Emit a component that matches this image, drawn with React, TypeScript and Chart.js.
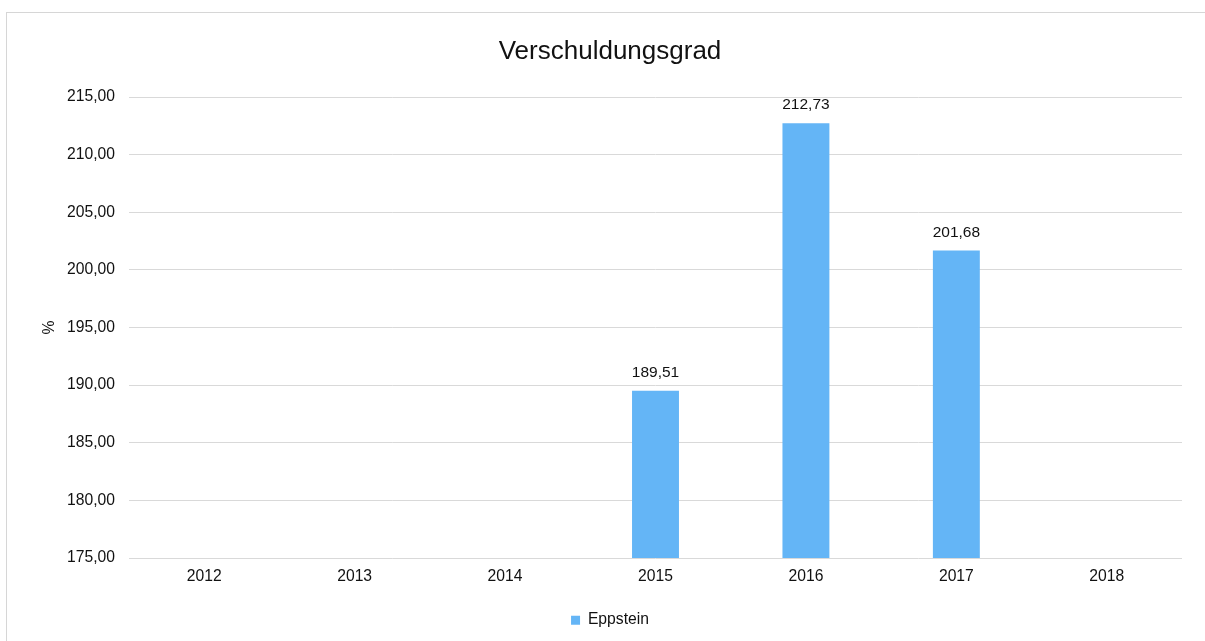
import React, { useEffect, useRef } from "react";
import { Chart, registerables } from "chart.js";

Chart.register(...registerables);

const chartTitle = "Verschuldungsgrad";
const categories = ["2012", "2013", "2014", "2015", "2016", "2017", "2018"];
const seriesName = "Eppstein";
const seriesValues: (number | null)[] = [null, null, null, 189.51, 212.73, 201.68, null];
const yAxisTitle = "%";
const yMin = 175;
const yMax = 215;
const yStep = 5;

const FONT = "'Liberation Sans', Arial, Helvetica, sans-serif";
const TEXT = "#111111";
const BAR = "#64B5F6";

const fmt = (v: number) => v.toFixed(2).replace(".", ",");

const valueLabels = {
  id: "valueLabels",
  afterDatasetsDraw(chart: any) {
    const ctx = chart.ctx;
    const meta = chart.getDatasetMeta(0);
    ctx.save();
    ctx.font = `15.5px ${FONT}`;
    ctx.fillStyle = TEXT;
    ctx.textAlign = "center";
    ctx.textBaseline = "alphabetic";
    meta.data.forEach((el: any, i: number) => {
      const v = seriesValues[i];
      if (v == null) return;
      ctx.fillText(fmt(v), el.x, el.y - 14);
    });
    ctx.restore();
  },
};

export default function App() {
  const ref = useRef<HTMLCanvasElement>(null);
  useEffect(() => {
    if (!ref.current) return;
    const chart = new Chart(ref.current, {
      type: "bar",
      data: {
        labels: categories,
        datasets: [
          {
            label: seriesName,
            data: seriesValues,
            backgroundColor: BAR,
            borderWidth: 0,
            barPercentage: 0.312,
            categoryPercentage: 1,
          },
        ],
      },
      plugins: [valueLabels],
      options: {
        animation: false,
        responsive: false,
        maintainAspectRatio: false,
        layout: { padding: { left: 38, right: 23, top: 0, bottom: 3 } },
        plugins: {
          tooltip: { enabled: false },
          title: {
            display: true,
            text: chartTitle,
            color: TEXT,
            font: { family: FONT, size: 26, weight: "normal" as any, lineHeight: 1.2 },
            padding: { top: 36, bottom: 29.8 },
          },
          legend: {
            display: true,
            position: "bottom",
            labels: {
              color: TEXT,
              font: { family: FONT, size: 15.7 },
              boxWidth: 9,
              boxHeight: 9,
              padding: 10,
            },
          },
        },
        scales: {
          x: {
            grid: { display: false, drawTicks: false },
            border: { display: false },
            ticks: { color: TEXT, font: { family: FONT, size: 15.7 }, padding: 9, maxRotation: 0 },
            afterFit(scale: any) {
              scale.height = 44.3;
            },
          },
          y: {
            min: yMin,
            max: yMax,
            grid: { color: "#d9d9d9", lineWidth: 1, drawTicks: false },
            border: { display: false },
            ticks: {
              stepSize: yStep,
              color: TEXT,
              font: { family: FONT, size: 15.7 },
              padding: 14,
              callback: (v: any) => fmt(Number(v)),
            },
            title: {
              display: true,
              text: yAxisTitle,
              color: TEXT,
              font: { family: FONT, size: 15.7 },
              padding: { top: 2, bottom: 0 },
            },
            afterFit(scale: any) {
              scale.width = 91;
            },
          },
        },
      },
    });
    return () => chart.destroy();
  }, []);

  return (
    <div style={{ position: "fixed", left: 0, top: 0, width: 1205, height: 641, background: "#fff", overflow: "hidden" }}>
      <div
        style={{
          position: "absolute",
          left: 6,
          top: 12,
          width: 1300,
          height: 700,
          border: "1px solid #d6d6d6",
          boxSizing: "border-box",
        }}
      />
      <canvas ref={ref} width={1205} height={641} style={{ position: "absolute", left: 0, top: 0, width: 1205, height: 641 }} />
    </div>
  );
}
